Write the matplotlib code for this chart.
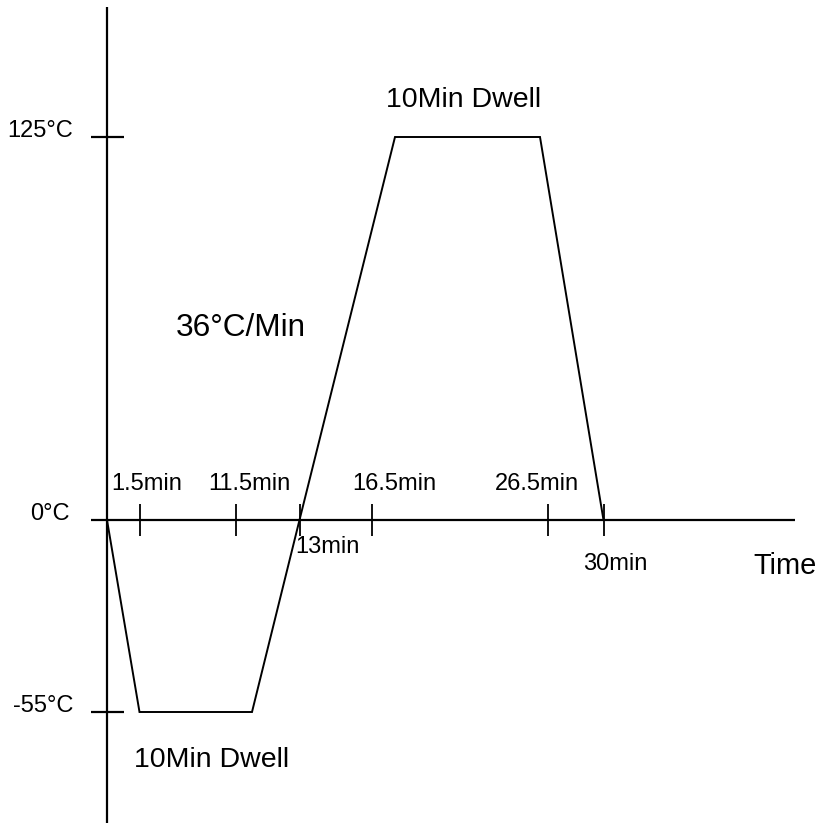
import matplotlib
matplotlib.use("Agg")
import matplotlib.pyplot as plt

plt.rcParams['font.family'] = ['Liberation Sans', 'DejaVu Sans']

# Schematic diagram positions (not to scale), origin at (0 min, 0 °C)
tick_labels = ["1.5min", "11.5min", "13min", "16.5min", "26.5min", "30min"]
tick_pos = [32.5, 128.5, 192.5, 265, 440.5, 496.5]

temp_labels = ["125°C", "0°C", "-55°C"]
temp_pos = [383, 0, -192]

# Temperature profile vertices (schematic)
profile_x = [0, 32.5, 145, 192.5, 288, 433, 496.5]
profile_y = [0, -192, -192, 0, 383, 383, 0]

fig = plt.figure(figsize=(8.21, 8.23), dpi=100)
ax = fig.add_axes([0, 0, 1, 1])
ax.set_xlim(-107, 714)
ax.set_ylim(-303, 520)
ax.axis('off')

lw_axis = 1.6
small = 17
# axes
ax.plot([0, 0], [-303, 513], color='black', lw=lw_axis, solid_capstyle='butt')
ax.plot([-16, 688], [0, 0], color='black', lw=lw_axis, solid_capstyle='butt')

# y ticks (125 and -55)
for lab, p in zip(temp_labels, temp_pos):
    if p != 0:
        ax.plot([-16, 17], [p, p], color='black', lw=lw_axis, solid_capstyle='butt')
    ax.text(-34 if p != 0 else -37, p, lab, ha='right', va='baseline', fontsize=small)

# x ticks
for p in tick_pos:
    ax.plot([p, p], [-16, 16], color='black', lw=1.3, solid_capstyle='butt')

xlab_x = [40, 142.5, 220.5, 287, 430, 508]
xlab_y = [30, 30, -33, 30, 30, -50]
for lab, x, y in zip(tick_labels, xlab_x, xlab_y):
    ax.text(x, y, lab, ha='center', va='baseline', fontsize=small)

# profile
ax.plot(profile_x, profile_y, color='black', lw=1.4, solid_joinstyle='miter')

# annotations
ax.text(356.5, 413, "10Min Dwell", ha='center', va='baseline', fontsize=20.5)
ax.text(104.5, -247, "10Min Dwell", ha='center', va='baseline', fontsize=20.5)
ax.text(133.5, 184, "36°C/Min", ha='center', va='baseline', fontsize=22.7)
ax.text(678.5, -53.5, "Time", ha='center', va='baseline', fontsize=20.9)

fig.savefig("out.png", dpi=100, facecolor='white')
